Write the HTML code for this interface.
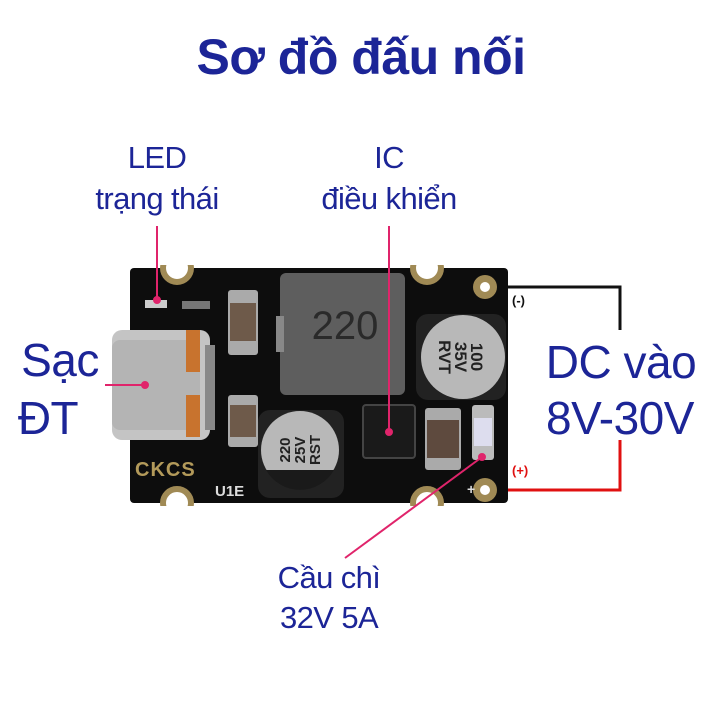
<!DOCTYPE html>
<html><head><meta charset="utf-8"><style>
html,body{margin:0;padding:0;background:#fff}
svg{display:block}
text{font-family:"Liberation Sans",sans-serif}
</style></head><body>
<svg width="714" height="714" viewBox="0 0 714 714" xmlns="http://www.w3.org/2000/svg">
<rect width="714" height="714" fill="#fff"/>
<text x="361" y="74" text-anchor="middle" font-size="50" font-weight="bold" fill="#1c2597" letter-spacing="-0.5">Sơ đồ đấu nối</text>
<g fill="#1c2597" font-size="31" text-anchor="middle" letter-spacing="-0.6">
<text x="157" y="168">LED</text>
<text x="157" y="209">trạng thái</text>
<text x="389" y="168">IC</text>
<text x="389" y="209">điều khiển</text>
<text x="329" y="588">Cầu chì</text>
<text x="329" y="628">32V 5A</text>
</g>
<g fill="#1c2597" text-anchor="middle" letter-spacing="-0.5">
<text x="60" y="376" font-size="46">Sạc</text>
<text x="48" y="434" font-size="46">ĐT</text>
<text x="621" y="378" font-size="46">DC vào</text>
<text x="620" y="434" font-size="46">8V-30V</text>
</g>
<!-- wires -->
<polyline points="485,287 620,287 620,330" fill="none" stroke="#111" stroke-width="3"/>
<polyline points="485,490 620,490 620,440" fill="none" stroke="#e01010" stroke-width="3"/>
<text x="512" y="305" font-size="13" font-weight="bold" fill="#111">(-)</text>
<text x="512" y="475" font-size="13" font-weight="bold" fill="#e01010">(+)</text>
<!-- board -->
<rect x="130" y="268" width="378" height="235" rx="4" fill="#0d0d0d"/>
<g fill="#fff" stroke="#a08a55" stroke-width="6">
<circle cx="177" cy="268" r="14"/><circle cx="427" cy="268" r="14"/>
<circle cx="177" cy="503" r="14"/><circle cx="427" cy="503" r="14"/>
</g>
<rect x="120" y="250" width="400" height="15" fill="#fff"/>
<rect x="120" y="506" width="400" height="15" fill="#fff"/>
<circle cx="485" cy="287" r="12" fill="#a08a55"/><circle cx="485" cy="287" r="5" fill="#fff"/>
<circle cx="485" cy="490" r="12" fill="#a08a55"/><circle cx="485" cy="490" r="5" fill="#fff"/>
<text x="467" y="494" font-size="14" font-weight="bold" fill="#ddd">+</text>
<!-- inductor -->
<rect x="280" y="273" width="125" height="122" rx="6" fill="#5e5e5e"/>
<rect x="276" y="316" width="8" height="36" fill="#888"/>
<text x="345" y="339" text-anchor="middle" font-size="40" fill="#2a2a2a">220</text>
<!-- caps electrolytic -->
<rect x="416" y="314" width="90" height="86" rx="12" fill="#222"/>
<circle cx="463" cy="357" r="42" fill="#b8b8b8"/>
<text transform="translate(463,357) rotate(90)" text-anchor="middle" font-size="17" font-weight="bold" fill="#222" y="-8">100</text>
<text transform="translate(463,357) rotate(90)" text-anchor="middle" font-size="17" font-weight="bold" fill="#222" y="8">35V</text>
<text transform="translate(463,357) rotate(90)" text-anchor="middle" font-size="17" font-weight="bold" fill="#222" y="24">RVT</text>
<rect x="258" y="410" width="86" height="88" rx="12" fill="#222"/>
<circle cx="300" cy="450" r="39" fill="#b8b8b8"/>
<path d="M266,470 A39,39 0 0 0 334,470 Z" fill="#1a1a1a"/>
<text transform="translate(300,450) rotate(-90)" text-anchor="middle" font-size="15" font-weight="bold" fill="#222" y="-10">220</text>
<text transform="translate(300,450) rotate(-90)" text-anchor="middle" font-size="15" font-weight="bold" fill="#222" y="5">25V</text>
<text transform="translate(300,450) rotate(-90)" text-anchor="middle" font-size="15" font-weight="bold" fill="#222" y="20">RST</text>
<!-- ceramic caps -->
<rect x="228" y="290" width="30" height="65" rx="3" fill="#aaa"/><rect x="230" y="303" width="26" height="38" fill="#6e5a4a"/>
<rect x="228" y="395" width="30" height="52" rx="3" fill="#aaa"/><rect x="230" y="405" width="26" height="32" fill="#6e5a4a"/>
<rect x="425" y="408" width="36" height="62" rx="3" fill="#aaa"/><rect x="427" y="420" width="32" height="38" fill="#5e4a3e"/>
<!-- fuse -->
<rect x="472" y="405" width="22" height="55" rx="3" fill="#bbb"/><rect x="474" y="418" width="18" height="28" fill="#dde"/>
<!-- IC -->
<rect x="363" y="405" width="52" height="53" rx="3" fill="#1a1a1a" stroke="#444" stroke-width="2"/>
<!-- LED -->
<rect x="145" y="300" width="22" height="8" fill="#ccc"/>
<rect x="182" y="301" width="28" height="8" fill="#777"/>
<!-- USB-C -->
<rect x="112" y="330" width="98" height="110" rx="10" fill="#c4c4c4"/>
<rect x="112" y="340" width="88" height="90" rx="8" fill="#b4b4b4"/>
<rect x="186" y="330" width="14" height="42" fill="#c8732e"/>
<rect x="186" y="395" width="14" height="42" fill="#c8732e"/>
<rect x="205" y="345" width="10" height="85" fill="#888"/>
<text x="135" y="476" font-size="20" font-weight="bold" fill="#b39a5a" letter-spacing="1">CKCS</text>
<text x="215" y="496" font-size="15" font-weight="bold" fill="#ddd">U1E</text>
<!-- pink pointers -->
<g stroke="#e0246b" stroke-width="2" fill="#e0246b">
<line x1="157" y1="226" x2="157" y2="300"/><circle cx="157" cy="300" r="3"/>
<line x1="389" y1="226" x2="389" y2="432"/><circle cx="389" cy="432" r="3"/>
<line x1="105" y1="385" x2="145" y2="385"/><circle cx="145" cy="385" r="3"/>
<line x1="345" y1="558" x2="482" y2="457"/><circle cx="482" cy="457" r="3"/>
</g>
</svg>
</body></html>
